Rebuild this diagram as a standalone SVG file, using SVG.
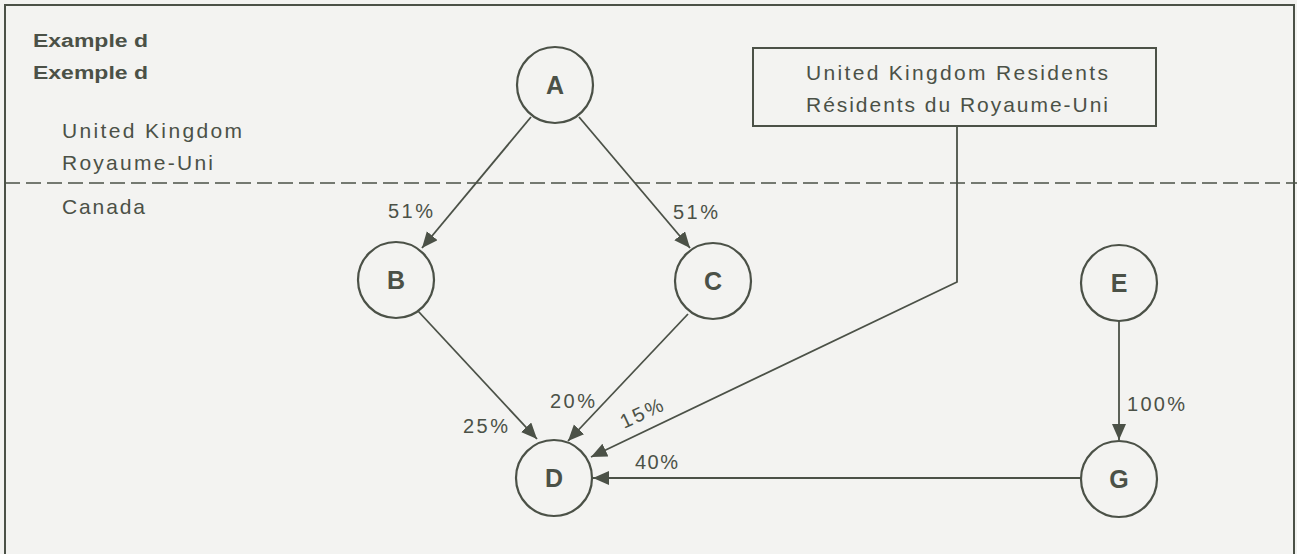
<svg xmlns="http://www.w3.org/2000/svg" width="1297" height="554" viewBox="0 0 1297 554">
<style>
.bg{fill:#f3f3f1}
.frame{fill:none;stroke:#4b5147;stroke-width:2}
.dash{fill:none;stroke:#4b5147;stroke-width:1.6;stroke-dasharray:15 6}
.node{fill:#f3f3f1;stroke:#4b5147;stroke-width:2.2}
.box{fill:#f3f3f1;stroke:#4b5147;stroke-width:2}
.edge{fill:none;stroke:#4b5147;stroke-width:1.8}
.t{font-family:"Liberation Sans",Arial,sans-serif;fill:#4b5147}
.title{font-size:18px;font-weight:bold}
.lbl{font-size:21px}
.pct{font-size:20px}
.nl{font-size:25px;font-weight:bold;text-anchor:middle}
</style>
<defs>
<marker id="arr" markerUnits="userSpaceOnUse" markerWidth="18" markerHeight="16" refX="16" refY="7" orient="auto">
<path d="M0,0 L16,7 L0,14 z" fill="#4b5147"/>
</marker>
</defs>
<rect class="bg" x="0" y="0" width="1297" height="554"/>
<rect class="frame" x="5" y="5" width="1289" height="570"/>
<line class="dash" x1="5" y1="183" x2="1297" y2="183"/>
<g id="titles">
<text class="t title" x="33" y="47" textLength="115" lengthAdjust="spacingAndGlyphs">Example d</text>
<text class="t title" x="33" y="79" textLength="115" lengthAdjust="spacingAndGlyphs">Exemple d</text>
<text class="t lbl" x="62" y="138" textLength="180" lengthAdjust="spacing">United Kingdom</text>
<text class="t lbl" x="62" y="170" textLength="151" lengthAdjust="spacing">Royaume-Uni</text>
<text class="t lbl" x="62" y="214" textLength="83" lengthAdjust="spacing">Canada</text>
</g>
<g id="connectors">
<line class="edge" x1="531" y1="117" x2="422" y2="248" marker-end="url(#arr)"/>
<line class="edge" x1="579" y1="117" x2="690" y2="248" marker-end="url(#arr)"/>
<line class="edge" x1="418" y1="311" x2="537" y2="439" marker-end="url(#arr)"/>
<line class="edge" x1="688" y1="314" x2="568" y2="441" marker-end="url(#arr)"/>
<polyline class="edge" points="957,126 957,282 591,457" marker-end="url(#arr)"/>
<line class="edge" x1="1081" y1="478" x2="593" y2="478" marker-end="url(#arr)"/>
<line class="edge" x1="1119" y1="321" x2="1119" y2="440" marker-end="url(#arr)"/>
<text class="t pct" x="388" y="218" textLength="45" lengthAdjust="spacing">51%</text>
<text class="t pct" x="673" y="219" textLength="45" lengthAdjust="spacing">51%</text>
<text class="t pct" x="463" y="433" textLength="45" lengthAdjust="spacing">25%</text>
<text class="t pct" x="550" y="408" textLength="45" lengthAdjust="spacing">20%</text>
<text class="t pct" x="624" y="429" textLength="45" lengthAdjust="spacing" transform="rotate(-25 624 429)">15%</text>
<text class="t pct" x="635" y="469" textLength="43" lengthAdjust="spacing">40%</text>
<text class="t pct" x="1127" y="411" textLength="58" lengthAdjust="spacing">100%</text>
</g>
<g id="node-box">
<rect class="box" x="753" y="48" width="403" height="78"/>
<text class="t lbl" x="957" y="80" text-anchor="middle" textLength="302" lengthAdjust="spacing">United Kingdom Residents</text>
<text class="t lbl" x="957" y="112" text-anchor="middle" textLength="302" lengthAdjust="spacing">Résidents du Royaume-Uni</text>
</g>
<g id="node-A"><circle class="node" cx="555" cy="85" r="38"/><text class="t nl" x="555" y="94">A</text></g>
<g id="node-B"><circle class="node" cx="396" cy="280" r="38"/><text class="t nl" x="396" y="289">B</text></g>
<g id="node-C"><circle class="node" cx="713" cy="281" r="38"/><text class="t nl" x="713" y="290">C</text></g>
<g id="node-D"><circle class="node" cx="554" cy="478" r="38"/><text class="t nl" x="554" y="487">D</text></g>
<g id="node-E"><circle class="node" cx="1119" cy="283" r="38"/><text class="t nl" x="1119" y="292">E</text></g>
<g id="node-G"><circle class="node" cx="1119" cy="479" r="38"/><text class="t nl" x="1119" y="488">G</text></g>
</svg>
